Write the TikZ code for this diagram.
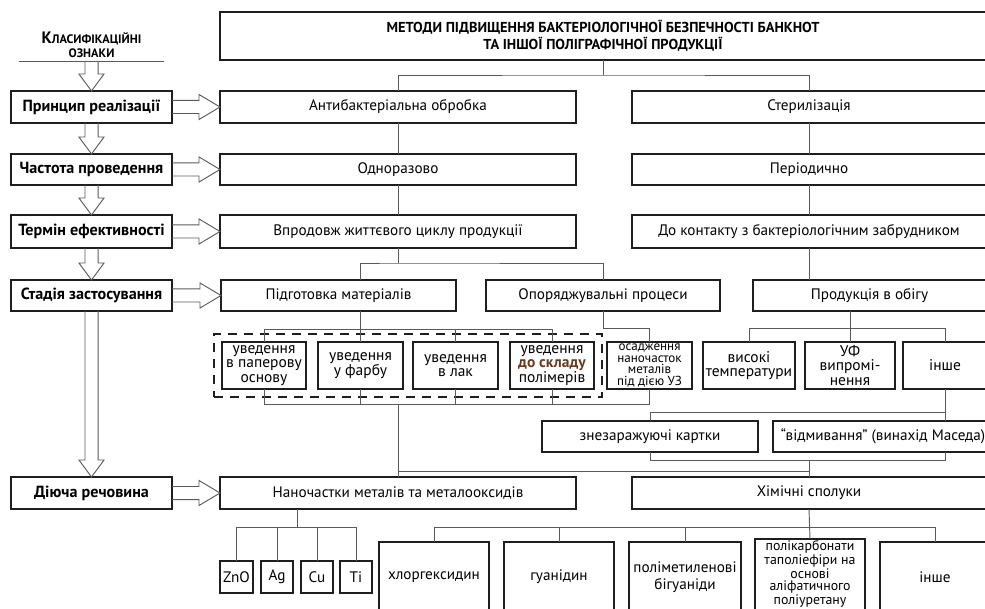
\documentclass[tikz,border=0pt]{standalone}
\usepackage{fontspec}
\setmainfont{PT Sans}
\usetikzlibrary{calc,fit}

\definecolor{boxcol}{HTML}{1E1E1E}
\definecolor{linecol}{HTML}{5A5A5A}
\definecolor{accent}{HTML}{6B3A1E}

\tikzset{
  box/.style={draw=boxcol, line width=1.1pt, align=center, inner sep=1pt, outer sep=0pt,
    font=\fontsize{11.4}{13}\selectfont},
  key/.style={box, font=\bfseries\fontsize{12.1}{13}\selectfont, minimum width=161*.75pt, minimum height=32*.75pt},
  colL/.style={box, minimum width=356*.75pt},
  colR/.style={box, minimum width=354*.75pt},
  stage/.style={box, minimum height=31*.75pt},
  way/.style={box, minimum height=47*.75pt, font=\fontsize{11.6}{10.8}\selectfont},
  elem/.style={box, minimum width=32*.75pt, minimum height=32*.75pt},
  agent/.style={box, minimum width=110*.75pt, minimum height=70*.75pt},
  group/.style={draw=boxcol, line width=1.1pt, dash pattern=on 7pt off 5pt},
  link/.style={draw=linecol, line width=0.7pt},
  hollow/.style={link, to path={
    let \p1=(\tikztostart), \p2=(\tikztotarget), \p3=($(\p2)!#1!(\p1)$) in
    ($(\p1)!4.9pt!90:(\p2)$) -- ($(\p3)!4.9pt!90:(\p2)$) -- ($(\p3)!9.4pt!90:(\p2)$) -- (\p2)
    -- ($(\p3)!9.4pt!-90:(\p2)$) -- ($(\p3)!4.9pt!-90:(\p2)$) -- ($(\p1)!4.9pt!-90:(\p2)$)}},
  hollow/.default=12.75pt
}

\begin{document}
\begin{tikzpicture}[x=0.75pt, y=-0.75pt]
\useasboundingbox (0,0) rectangle (985,609);
\clip (0,0) rectangle (985,609);

% title
\node[box, minimum width=766*.75pt, minimum height=48*.75pt, font=\bfseries\fontsize{10.8}{12.75}\selectfont]
  (title) at (603,36) {МЕТОДИ ПІДВИЩЕННЯ БАКТЕРІОЛОГІЧНОЇ БЕЗПЕЧНОСТІ БАНКНОТ\\ТА ІНШОЇ ПОЛІГРАФІЧНОЇ ПРОДУКЦІЇ};

% classification column
\node[anchor=south, minimum width=145*.75pt, inner sep=2pt, align=center, font=\bfseries\fontsize{9.2}{10.5}\selectfont]
  (klas) at (91.5,61) {{\fontsize{12.4}{10.5}\selectfont К}ЛАСИФІКАЦІЙНІ\\ОЗНАКИ};
\draw[link] (klas.south west) -- (klas.south east);
\node[key] (pr) at (91.5,107) {Принцип реалізації};
\node[key, minimum height=31*.75pt] (chast) at (91.5,169.5) {Частота проведення};
\node[key, minimum height=33*.75pt] (term) at (91.5,231.5) {Термін ефективності};
\node[key, minimum height=31*.75pt] (stad) at (91.5,295.5) {Стадія застосування};
\node[key] (dii) at (91.5,493) {Діюча речовина};

% methods
\node[colL, minimum height=32*.75pt] (anti) at (398,107) {Антибактеріальна обробка};
\node[colR, minimum height=32*.75pt] (ster) at (809,107) {Стерилізація};
\node[colL, minimum height=31*.75pt] (odno) at (398,169.5) {Одноразово};
\node[colR, minimum height=31*.75pt] (per) at (809,169.5) {Періодично};
\node[colL, minimum height=33*.75pt] (vprod) at (398,231.5) {Впродовж життєвого циклу продукції};
\node[colR, minimum height=33*.75pt] (dokon) at (809,231.5) {До контакту з бактеріологічним забрудником};

\node[stage, minimum width=235*.75pt] (pidg) at (338.5,295.5) {Підготовка матеріалів};
\node[stage, minimum width=234*.75pt] (opor) at (603,295.5) {Опоряджувальні процеси};
\node[stage, minimum width=233*.75pt] (prod) at (869.5,295.5) {Продукція в обігу};

\node[way, minimum width=84*.75pt] (pap) at (264,365.5) {уведення\\в паперову\\основу};
\node[way, minimum width=85*.75pt] (fb) at (360.5,365.5) {уведення\\у фарбу};
\node[way, minimum width=85*.75pt] (lak) at (455.5,365.5) {уведення\\в лак};
\node[way, minimum width=84*.75pt] (pol) at (552,365.5) {уведення\\{\bfseries\color{accent}до складу}\\полімерів};
\node[way, minimum width=85*.75pt, inner sep=0pt, font=\fontsize{9.8}{8.8}\selectfont] (osad) at (649.5,365.5) {осадження\\наночасток\\металів\\під дією УЗ};
\node[way, minimum width=92*.75pt] (vys) at (749,365.5) {високі\\температури};
\node[way, minimum width=90*.75pt] (uf) at (850,365.5) {УФ\\випромі-\\нення};
\node[way, minimum width=84*.75pt] (inshe1) at (945,365.5) {інше};
\node[group, fit=(pap)(pol), inner sep=6pt] (grp) {};

\node[stage, minimum width=216*.75pt] (znez) at (650,436.5) {знезаражуючі картки};
\node[stage, minimum width=220*.75pt] (vidm) at (883,436.5) {“відмивання” (винахід Маседа)};

\node[colL, minimum height=32*.75pt] (nano) at (398,493) {Наночастки металів та металооксидів};
\node[colR, minimum height=32*.75pt] (khim) at (809,493) {Хімічні сполуки};

\node[elem, minimum width=33*.75pt] (zno) at (236.5,577) {ZnO};
\node[elem] (ag) at (277,577) {Ag};
\node[elem] (cu) at (317,577) {Cu};
\node[elem] (ti) at (356,577) {Ti};

\node[agent] (khl) at (434,577) {хлоргексидин};
\node[agent] (guan) at (559,577) {гуанідин};
\node[agent, minimum width=112*.75pt] (polim) at (685,577) {поліметиленові\\бігуаніди};
\node[agent, font=\fontsize{10.4}{9.2}\selectfont, text depth=7pt] (polik) at (810,577) {полікарбонати\\таполіефіри на\\основі\\аліфатичного\\поліуретану};
\node[agent] (inshe2) at (935,577) {інше};

% hollow arrows
\draw[hollow] (klas.south) to (pr.north);
\draw[hollow] (pr.south) to (chast.north);
\draw[hollow] (chast.south) to (term.north);
\draw[hollow] (term.south) to (stad.north);
\draw[hollow] (stad.south) to (dii.north);
\foreach \a/\b in {pr/anti, chast/odno, term/vprod, stad/pidg, dii/nano}
  \draw[hollow=15.75pt] (\a.east) to (\b.west);

% connectors
\draw[link] (title.south) -- ++(0,15) coordinate (t1);
\draw[link] (anti.north) |- (t1) -| (ster.north);
\foreach \a/\b in {anti/odno, odno/vprod, ster/per, per/dokon}
  \draw[link] (\a.south) -- (\b.north);
\draw[link] (vprod.south) -- ++(0,15) coordinate (t2);
\draw[link] (pidg.north -| fb.north) |- (t2) -| (opor.north);
\draw[link] (dokon.south) -- (dokon.south |- prod.north);

\draw[link] (pidg.south -| fb.north) -- (fb.north);
\draw[link] (pap.north) -- ++(0,-13) -| (pol.north);
\draw[link] (lak.north) -- ++(0,-13);
\draw[link] (opor.south) -- ++(0,17) -| (osad.north);
\draw[link] (prod.south -| uf.north) -- (uf.north);
\draw[link] (vys.north) -- ++(0,-14) -| (inshe1.north);

\draw[link] (pap.south) -- ++(0,15) coordinate (b1) -| (osad.south);
\foreach \b in {fb,lak,pol}
  \draw[link] (\b.south) -- ++(0,15);
\draw[link] (b1 -| nano.north) -- (nano.north);
\draw[link] ($(nano.north)+(0,-6)$) -| (khim.north);

\draw[link] (inshe1.south) -- ++(0,23) coordinate (b3) -- (inshe1.south |- vidm.north);
\draw[link] (b3) -| (znez.north);
\draw[link] (znez.south) -- ++(0,8) coordinate (b2) -| (vidm.south -| inshe1.south);
\draw[link] (b2 -| khim.north) -- (khim.north);

\coordinate (m) at ($(ag.north)!.5!(cu.north)$);
\draw[link] (m |- nano.south) -- ++(0,18);
\draw[link] (zno.north) -- ++(0,-34) -| (ti.north);
\foreach \b in {ag,cu}
  \draw[link] (\b.north) -- ++(0,-34);

\draw[link] (khim.south) -- (polik.north);
\draw[link] (khl.north) -- ++(0,-15) -| (inshe2.north);
\foreach \b in {guan,polim}
  \draw[link] (\b.north) -- ++(0,-15);
\end{tikzpicture}
\end{document}
